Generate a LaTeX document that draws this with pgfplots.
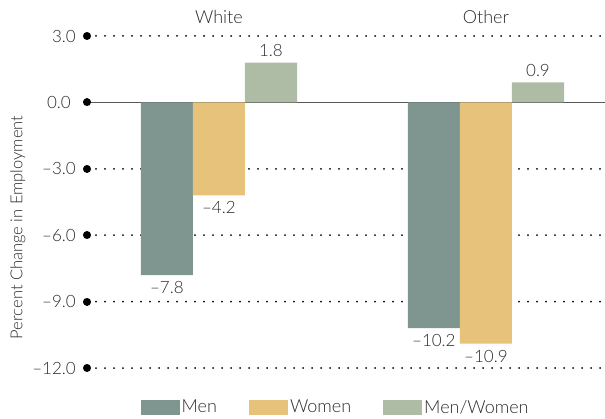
\documentclass[border=0pt]{standalone}
\usepackage{fontspec}
\setmainfont{Lato Light}
\usepackage{pgfplots}
\pgfplotsset{compat=1.18}
\definecolor{menc}{HTML}{7F9590}
\definecolor{womc}{HTML}{E6C27A}
\definecolor{mwc}{HTML}{AFBCA5}
\definecolor{txt}{HTML}{2B2B2B}
\begin{document}
\fontsize{18}{21}\selectfont
\begin{tikzpicture}[x=1pt,y=1pt]
\useasboundingbox (0,0) rectangle (605,418);
\begin{axis}[
  at={(87pt,50pt)}, anchor=south west,
  scale only axis, width=518pt, height=332pt,
  xmin=-0.494, xmax=1.446, ymin=-12, ymax=3,
  axis x line=middle,
  x axis line style={-, black!65, line width=1.5pt},
  y axis line style={draw=none},
  ytick pos=left,
  xtick=\empty,
  ytick={-12,-9,-6,-3,3},
  yticklabels={\textendash12.0,\textendash9.0,\textendash6.0,\textendash3.0,3.0},
  yticklabel style={txt, xshift=-5pt, font=\fontsize{17}{20}\selectfont},
  ymajorgrids,
  grid style={line width=2pt, line cap=round, dash pattern=on 0pt off 9pt, black},
  extra y ticks={0},
  extra y tick labels={0.0},
  extra y tick style={grid=none, major tick length=0.1pt, tick align=center,
     tick style={line width=8pt, line cap=round, black},
     yticklabel style={txt, xshift=-5pt, font=\fontsize{17}{20}\selectfont}},
  major tick length=0.1pt,
  tick align=center,
  ytick style={line width=8pt, line cap=round, black},
  ybar, bar width=0.195,
  point meta=explicit symbolic,
  nodes near coords,
  every node near coord/.append style={txt, font=\fontsize{17}{20}\selectfont},
  clip=false,
  legend columns=3,
  legend style={at={(0.48,-0.12)}, anchor=center, draw=none, text=txt,
    font=\fontsize{18}{21}\selectfont,
    /tikz/every even column/.append style={column sep=30pt}},
  legend image code/.code={\fill[#1] (0pt,-7.5pt) rectangle (39pt,7.5pt);},
]
\addplot[fill=menc, draw=none, bar shift=-0.195, every node near coord/.append style={anchor=north}] coordinates {(0,-7.8) [\textendash7.8] (1,-10.2) [\textendash10.2]};
\addplot[fill=womc, draw=none, bar shift=0, every node near coord/.append style={anchor=north}] coordinates {(0,-4.2) [\textendash4.2] (1,-10.9) [\textendash10.9]};
\addplot[fill=mwc, draw=none, bar shift=0.195] coordinates {(0,1.8) [1.8] (1,0.9) [0.9]};
\legend{Men, Women, Men/Women}
\node[txt] at (axis cs:0,3) [yshift=19pt] {White};
\node[txt] at (axis cs:1,3) [yshift=19pt] {Other};
\end{axis}
\node[txt, rotate=90, font=\fontsize{16.5}{20}\selectfont] at (18, 190.5) {Percent Change in Employment};
\end{tikzpicture}
\end{document}
